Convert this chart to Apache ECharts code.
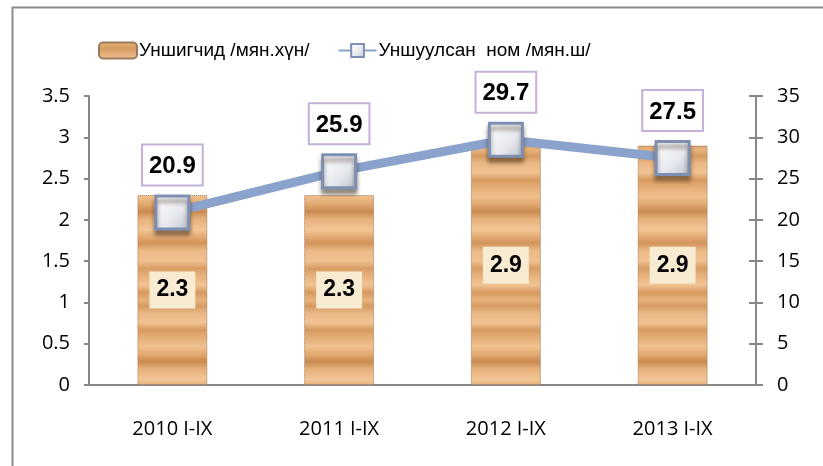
<!DOCTYPE html>
<html>
<head>
<meta charset="utf-8">
<script src="https://cdn.jsdelivr.net/npm/echarts@6/dist/echarts.min.js"></script>
<style>
html,body{margin:0;padding:0;background:#fff;}
#chart{width:823px;height:466px;}
</style>
</head>
<body>
<div id="chart"></div>
<script>
// data
var categories = ['2010 I-IX', '2011 I-IX', '2012 I-IX', '2013 I-IX'];
var readers = [2.3, 2.3, 2.9, 2.9];        // Уншигчид /мян.хүн/
var booksRead = [20.9, 25.9, 29.7, 27.5];  // Уншуулсан ном /мян.ш/
var leftTicks = [0, 0.5, 1, 1.5, 2, 2.5, 3, 3.5];
var rightTicks = [0, 5, 10, 15, 20, 25, 30, 35];

// wood-ish texture for the bars (soft horizontal streaks)
function woodPattern() {
    var c = document.createElement('canvas');
    c.width = 8; c.height = 150;
    var ctx = c.getContext('2d');
    var g = ctx.createLinearGradient(0, 0, 0, 150);
    var stops = [[0,'#e8b37c'],[0.04,'#d59b60'],[0.09,'#eab887'],[0.15,'#f1c292'],[0.2,'#d69a5f'],
                 [0.24,'#e2aa72'],[0.31,'#f0c08e'],[0.37,'#dfa56b'],[0.41,'#c98b51'],[0.46,'#e6b07a'],
                 [0.53,'#f2c596'],[0.58,'#e3aa71'],[0.62,'#d1945a'],[0.67,'#ebb985'],[0.74,'#f0c090'],
                 [0.79,'#d89d63'],[0.84,'#e7b27c'],[0.9,'#f1c393'],[0.95,'#d7995f'],[1,'#e8b37c']];
    for (var i = 0; i < stops.length; i++) g.addColorStop(stops[i][0], stops[i][1]);
    ctx.fillStyle = g;
    ctx.fillRect(0, 0, 8, 150);
    return c;
}

var myChart = echarts.init(document.getElementById('chart'));

var axisFont = {color: '#000', fontSize: 20, fontFamily: '"Open Sans", "Noto Sans", sans-serif'};
var boldFont = 'Arial, "Liberation Sans", sans-serif';

option = {
    animation: false,
    backgroundColor: '#fff',
    graphic: [{
        type: 'rect',
        shape: {x: 12.5, y: 7.5, width: 900, height: 600},
        style: {fill: 'none', stroke: '#8c8c8c', lineWidth: 2},
        silent: true
    }],
    legend: {
        left: 93,
        top: 36,
        itemGap: 28,
        itemWidth: 38,
        itemHeight: 16,
        textStyle: {color: '#000', fontSize: 19, fontFamily: 'Arial, "Liberation Sans", sans-serif', padding: [0, 0, 0, -3]},
        data: [
            {name: 'Уншигчид /мян.хүн/', icon: 'roundRect'},
            {name: 'Уншуулсан  ном /мян.ш/'}
        ]
    },
    grid: {left: 89, right: 67, top: 96, bottom: 81},
    xAxis: {
        type: 'category',
        data: categories,
        axisLine: {lineStyle: {color: '#888', width: 2}},
        axisTick: {show: false},
        axisLabel: Object.assign({margin: 34}, axisFont)
    },
    yAxis: [{
        type: 'value',
        min: 0, max: 3.5, interval: 0.5,
        splitLine: {show: false},
        axisLine: {show: true, lineStyle: {color: '#888', width: 2}},
        axisTick: {show: true, length: 5, lineStyle: {color: '#888', width: 2}},
        axisLabel: Object.assign({margin: 19, formatter: function (v) {
            return leftTicks.indexOf(v) >= 0 ? String(v) : '';
        }}, axisFont)
    }, {
        type: 'value',
        min: 0, max: 35, interval: 5,
        position: 'right',
        splitLine: {show: false},
        axisLine: {show: true, lineStyle: {color: '#888', width: 2}},
        axisTick: {show: true, length: 7, lineStyle: {color: '#888', width: 2}},
        axisLabel: Object.assign({margin: 21, formatter: function (v) {
            return rightTicks.indexOf(v) >= 0 ? String(v) : '';
        }}, axisFont)
    }, {
        // inner half of the crossing ticks on the right axis
        type: 'value',
        min: 0, max: 35, interval: 5,
        position: 'right',
        splitLine: {show: false},
        axisLine: {show: false},
        axisTick: {show: true, inside: true, length: 7, lineStyle: {color: '#888', width: 2}},
        axisLabel: {show: false}
    }],
    series: [{
        name: 'Уншигчид /мян.хүн/',
        type: 'bar',
        yAxisIndex: 0,
        barWidth: 70,
        data: readers,
        itemStyle: {
            color: {image: woodPattern(), repeat: 'repeat'},
            borderColor: '#9c7a5c',
            borderWidth: 1,
            borderType: 'dotted'
        },
        label: {
            show: true,
            position: 'inside',
            color: '#000',
            fontSize: 23,
            fontWeight: 'bold',
            fontFamily: boldFont,
            backgroundColor: '#f7ecd2',
            padding: [8, 7, 6, 7],
            formatter: function (p) { return p.value.toFixed(1); }
        }
    }, {
        name: 'Уншуулсан  ном /мян.ш/',
        type: 'line',
        yAxisIndex: 1,
        data: booksRead,
        z: 5,
        symbol: 'rect',
        symbolSize: 33,
        lineStyle: {color: '#8ba3cc', width: 9},
        itemStyle: {
            color: {
                type: 'linear', x: 0, y: 0, x2: 1, y2: 1,
                colorStops: [{offset: 0, color: '#ffffff'}, {offset: 0.6, color: '#e6e8ee'}, {offset: 1, color: '#b9bfca'}]
            },
            borderColor: '#7d90b4',
            borderWidth: 3,
            shadowColor: 'rgba(60,40,20,0.5)',
            shadowBlur: 4,
            shadowOffsetY: 5
        },
        label: {
            show: true,
            position: 'top',
            distance: 10,
            color: '#000',
            fontSize: 24,
            fontWeight: 'bold',
            fontFamily: boldFont,
            backgroundColor: '#fff',
            borderColor: '#c4b0d8',
            borderWidth: 2,
            padding: [9, 6, 6, 6],
            formatter: function (p) { return p.value.toFixed(1); }
        }
    }]
};

myChart.setOption(option);
</script>
</body>
</html>
